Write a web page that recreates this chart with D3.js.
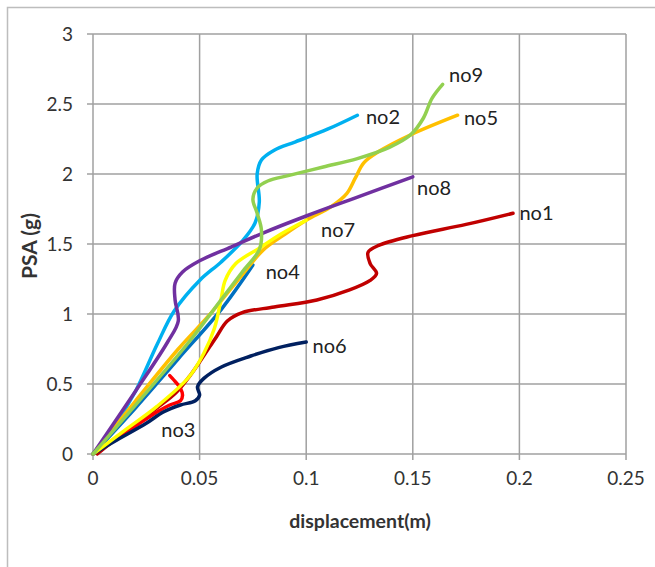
<!DOCTYPE html>
<html>
<head>
<meta charset="utf-8">
<script src="https://cdn.jsdelivr.net/npm/d3@7"></script>
<style>
  body { margin: 0; background: #fff; }
  svg { display: block; }
</style>
</head>
<body>
<div id="chart"></div>
<script>
// tick values
var xTicks = [0, 0.05, 0.1, 0.15, 0.2, 0.25];
var yTicks = [0, 0.5, 1, 1.5, 2, 2.5, 3];

// series names and colours (Excel order, later on top)
var names = ['no1', 'no2', 'no3', 'no4', 'no5', 'no6', 'no7', 'no8', 'no9'];
var colors = ['#c00000', '#00b0f0', '#ff0000', '#0070c0', '#ffc000', '#002060', '#ffff00', '#7030a0', '#92d050'];

// [displacement (m), PSA (g)]
var no1 = [[0.002, 0], [0.015, 0.16], [0.03, 0.33], [0.039, 0.44], [0.046, 0.57], [0.051, 0.68], [0.058, 0.84],
  [0.063, 0.95], [0.07, 1.01], [0.085, 1.05], [0.105, 1.1], [0.12, 1.17], [0.13, 1.24], [0.133, 1.29],
  [0.13, 1.36], [0.129, 1.44], [0.134, 1.49], [0.15, 1.56], [0.175, 1.64], [0.197, 1.72]];
var no2 = [[0, 0], [0.01, 0.2], [0.02, 0.45], [0.03, 0.78], [0.038, 1.02], [0.05, 1.24], [0.06, 1.37],
  [0.07, 1.52], [0.076, 1.65], [0.078, 1.8], [0.077, 2.0], [0.079, 2.1], [0.085, 2.17], [0.095, 2.23],
  [0.11, 2.32], [0.124, 2.42]];
var no3 = [[0, 0], [0.01, 0.1], [0.02, 0.2], [0.03, 0.3], [0.036, 0.35], [0.041, 0.38], [0.042, 0.42],
  [0.041, 0.47], [0.039, 0.51], [0.036, 0.56]];
var no4 = [[0, 0], [0.02, 0.33], [0.04, 0.68], [0.06, 1.03], [0.075, 1.35]];
var no5 = [[0, 0], [0.02, 0.38], [0.04, 0.75], [0.055, 1.0], [0.07, 1.28], [0.08, 1.46], [0.09, 1.57],
  [0.1, 1.67], [0.112, 1.77], [0.119, 1.86], [0.123, 1.97], [0.127, 2.08], [0.134, 2.16], [0.149, 2.28],
  [0.171, 2.42]];
var no6 = [[0, 0], [0.01, 0.09], [0.025, 0.22], [0.033, 0.3], [0.041, 0.35], [0.048, 0.38], [0.05, 0.42],
  [0.049, 0.48], [0.052, 0.54], [0.06, 0.62], [0.074, 0.7], [0.087, 0.76], [0.1, 0.8]];
var no7 = [[0, 0], [0.015, 0.17], [0.03, 0.34], [0.045, 0.55], [0.052, 0.72], [0.057, 0.9], [0.06, 1.1],
  [0.062, 1.24], [0.067, 1.36], [0.078, 1.47], [0.088, 1.57], [0.1, 1.67]];
var no8 = [[0, 0], [0.02, 0.45], [0.035, 0.8], [0.04, 0.95], [0.0385, 1.1], [0.0385, 1.22], [0.042, 1.3],
  [0.05, 1.38], [0.065, 1.48], [0.08, 1.58], [0.1, 1.7], [0.125, 1.84], [0.15, 1.98]];
var no9 = [[0, 0], [0.045, 0.8], [0.06, 1.1], [0.07, 1.3], [0.078, 1.46], [0.079, 1.6], [0.077, 1.72],
  [0.075, 1.82], [0.077, 1.9], [0.082, 1.95], [0.092, 1.99], [0.108, 2.05], [0.124, 2.11], [0.139, 2.19],
  [0.149, 2.28], [0.155, 2.4], [0.159, 2.54], [0.164, 2.64]];
var seriesData = [no1, no2, no3, no4, no5, no6, no7, no8, no9];

// label anchor points, in data units
var labelPos = [[0.2, 1.72], [0.128, 2.41], [0.032, 0.17], [0.081, 1.3], [0.174, 2.4],
  [0.103, 0.77], [0.107, 1.6], [0.152, 1.9], [0.167, 2.71]];

var W = 655, H = 567;
var font = 'Lato, "Open Sans", sans-serif';

var svg = d3.select('#chart').append('svg')
  .attr('width', W)
  .attr('height', H);

// outer chart frame
svg.append('rect')
  .attr('x', 7.5).attr('y', 7.5)
  .attr('width', 720).attr('height', 620)
  .attr('fill', 'none')
  .attr('stroke', '#bdbdbd')
  .attr('stroke-width', 1.5);

var x = d3.scaleLinear().domain([0, 0.25]).range([93, 626]);
var y = d3.scaleLinear().domain([0, 3]).range([454, 34]);

// gridlines
svg.append('g').selectAll('line.v').data(xTicks).join('line')
  .attr('x1', function(d) { return x(d); }).attr('x2', function(d) { return x(d); })
  .attr('y1', y(0) + 6).attr('y2', y(3))
  .attr('stroke', '#a0a0a0').attr('stroke-width', 1.5);
svg.append('g').selectAll('line.h').data(yTicks).join('line')
  .attr('x1', x(0) - 6).attr('x2', x(0.25))
  .attr('y1', function(d) { return y(d); }).attr('y2', function(d) { return y(d); })
  .attr('stroke', '#a0a0a0').attr('stroke-width', 1.5);

// tick labels
svg.append('g').selectAll('text').data(xTicks).join('text')
  .attr('x', function(d) { return x(d); })
  .attr('y', y(0) + 31)
  .attr('text-anchor', 'middle')
  .attr('font-family', font).attr('font-size', 19).attr('fill', '#333')
  .text(function(d) { return d; });
svg.append('g').selectAll('text').data(yTicks).join('text')
  .attr('x', x(0) - 20)
  .attr('y', function(d) { return y(d) + 7; })
  .attr('text-anchor', 'end')
  .attr('font-family', font).attr('font-size', 19).attr('fill', '#333')
  .text(function(d) { return d; });

// axis titles
svg.append('text')
  .attr('x', 360).attr('y', 528)
  .attr('text-anchor', 'middle')
  .attr('font-family', font).attr('font-size', 19.5).attr('font-weight', 'bold').attr('fill', '#333')
  .text('displacement(m)');
svg.append('text')
  .attr('transform', 'translate(37,' + 246 + ') rotate(-90)')
  .attr('text-anchor', 'middle')
  .attr('font-family', font).attr('font-size', 21).attr('font-weight', 'bold').attr('fill', '#333')
  .text('PSA (g)');

// curves
var line = d3.line()
  .x(function(d) { return x(d[0]); })
  .y(function(d) { return y(d[1]); })
  .curve(d3.curveCatmullRom.alpha(0.5));

svg.append('g').selectAll('path').data(seriesData).join('path')
  .attr('d', line)
  .attr('fill', 'none')
  .attr('stroke', function(d, i) { return colors[i]; })
  .attr('stroke-width', 3.5)
  .attr('stroke-linecap', 'round')
  .attr('stroke-linejoin', 'round');

// series labels
svg.append('g').selectAll('text').data(names).join('text')
  .attr('x', function(d, i) { return x(labelPos[i][0]); })
  .attr('y', function(d, i) { return y(labelPos[i][1]) + 7; })
  .attr('font-family', font).attr('font-size', 20).attr('fill', '#222')
  .text(function(d) { return d; });
</script>
</body>
</html>
